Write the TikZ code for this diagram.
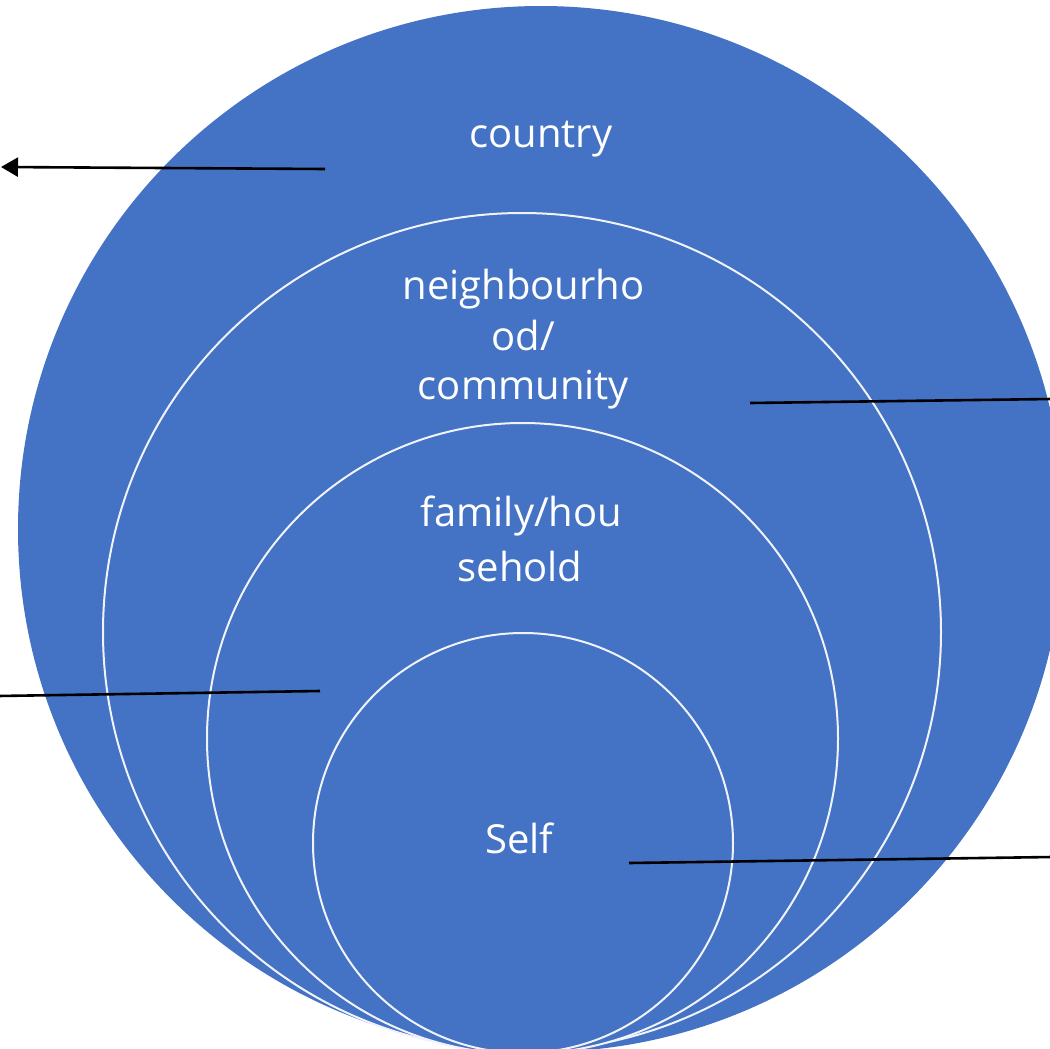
\documentclass[tikz,border=0pt]{standalone}
\usepackage{fontspec}
\setmainfont{Open Sans}
\usetikzlibrary{arrows.meta}
\definecolor{officeblue}{HTML}{4472C4}
\begin{document}
\begin{tikzpicture}[x=1pt,y=-1pt,
  ring/.style={circle, draw=white!92!officeblue, line width=2pt, fill=officeblue, inner sep=0pt},
  lab/.style={text=white, anchor=base, font=\fontsize{40}{50}\selectfont, inner sep=0pt},
  leader/.style={draw=black, line width=2.6pt},
]
\useasboundingbox (0,0) rectangle (1050,1049);
\clip (0,0) rectangle (1050,1049);
% circles
\node[circle, fill=officeblue, inner sep=0pt, minimum size=1046pt] (country) at (541,529) {};
\node[ring, minimum size=838pt] (neigh) at (522,632) {};
\node[ring, minimum size=631pt] (family) at (522.5,738.5) {};
\node[ring, minimum size=420pt] (self) at (523,843) {};
% labels
\node[lab] (tcountry) at (541,147) {country};
\node[lab] (tn1) at (523.5,299) {neighbourho};
\node[lab] (tn2) at (523.5,350) {od/};
\node[lab] (tn3) at (523.5,399) {community};
\node[lab] (tf1) at (521.5,526) {family/hou};
\node[lab] (tf2) at (520,581) {sehold};
\node[lab] (tself) at (519.5,853) {Self};
% leader lines
\coordinate (a1) at (325,169);
\coordinate (a2) at (1,167);
\coordinate (b1) at (750,403);
\coordinate (b2) at (1052,399);
\coordinate (c1) at (320,691);
\coordinate (c2) at (-2,696);
\coordinate (d1) at (629,863);
\coordinate (d2) at (1052,857);
\draw[leader, -{Triangle[length=17pt,width=19pt]}] (a1) -- (a2);
\draw[leader] (b1) -- (b2);
\draw[leader] (c1) -- (c2);
\draw[leader] (d1) -- (d2);
\end{tikzpicture}
\end{document}
